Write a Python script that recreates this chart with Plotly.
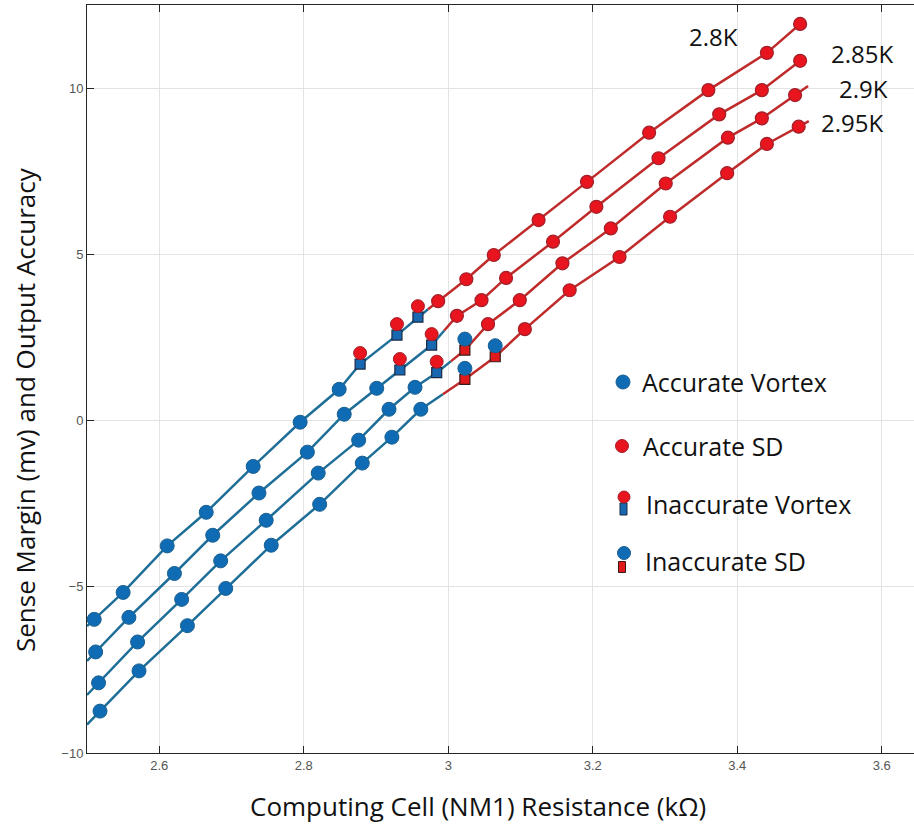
import plotly.graph_objects as go

# ---------------- data ----------------
curve_labels = ["2.8K", "2.85K", "2.9K", "2.95K"]

c1_x = [2.510, 2.550, 2.611, 2.665, 2.730, 2.795, 2.849, 2.878, 2.929, 2.958,
        2.986, 3.025, 3.063, 3.125, 3.192, 3.278, 3.360, 3.441, 3.487]
c1_y = [-5.98, -5.17, -3.77, -2.76, -1.38, -0.05, 0.94, 1.70, 2.57, 3.11,
        3.59, 4.25, 4.98, 6.03, 7.18, 8.66, 9.94, 11.06, 11.93]
c1_s = ["AV"] * 7 + ["IV"] * 3 + ["SD"] * 9

c2_x = [2.512, 2.558, 2.621, 2.674, 2.738, 2.805, 2.856, 2.901, 2.933, 2.977,
        3.012, 3.046, 3.080, 3.145, 3.205, 3.291, 3.375, 3.434, 3.487]
c2_y = [-6.96, -5.92, -4.60, -3.45, -2.18, -0.95, 0.19, 0.97, 1.52, 2.27,
        3.15, 3.62, 4.29, 5.38, 6.43, 7.89, 9.21, 9.94, 10.82]
c2_s = ["AV"] * 8 + ["IV"] * 2 + ["SD"] * 9

c3_x = [2.516, 2.570, 2.631, 2.685, 2.748, 2.820, 2.876, 2.918, 2.954, 2.984,
        3.023, 3.055, 3.099, 3.158, 3.225, 3.301, 3.387, 3.434, 3.480]
c3_y = [-7.89, -6.66, -5.38, -4.22, -3.00, -1.58, -0.59, 0.34, 1.00, 1.44,
        2.12, 2.90, 3.62, 4.73, 5.78, 7.13, 8.51, 9.09, 9.79]
c3_s = ["AV"] * 9 + ["IV"] + ["ISD"] + ["SD"] * 8

c4_x = [2.518, 2.572, 2.639, 2.692, 2.755, 2.822, 2.881, 2.922, 2.962,
        3.023, 3.065, 3.106, 3.168, 3.237, 3.307, 3.386, 3.441, 3.485]
c4_y = [-8.74, -7.53, -6.17, -5.05, -3.75, -2.52, -1.28, -0.50, 0.34,
        1.24, 1.92, 2.75, 3.92, 4.92, 6.13, 7.44, 8.32, 8.84]
c4_s = ["AV"] * 9 + ["ISD"] * 2 + ["SD"] * 7

right_ext = [0.0, 0.006, 0.018, 0.014]   # how far each line runs past its last point

legend_labels = ["Accurate Vortex", "Accurate SD", "Inaccurate Vortex", "Inaccurate SD"]

x_ticks = [2.6, 2.8, 3.0, 3.2, 3.4, 3.6]
x_tick_text = ["2.6", "2.8", "3", "3.2", "3.4", "3.6"]
y_ticks = [-10, -5, 0, 5, 10]
x_range = [2.5, 3.6446]
y_range = [-10, 12.5]

# ---------------- style ----------------
BLUE_LINE = "#1f6e98"
BLUE_MK = "#0f6cb4"
RED_LINE = "#bf2b2b"
RED_MK = "#e8141e"
RED_EDGE = "#a0202a"
SQ_EDGE = "#1b2a44"
FONT = "Open Sans"

W, H = 914, 826
ML, MT, MB, MR = 87, 5, 73, 0
PW, PH = W - ML - MR, H - MT - MB
y_per_px = (y_range[1] - y_range[0]) / PH
circle_off = 11 * y_per_px   # circle drawn above the square for inaccurate marks

fig = go.Figure()

curves = [(c1_x, c1_y, c1_s), (c2_x, c2_y, c2_s), (c3_x, c3_y, c3_s), (c4_x, c4_y, c4_s)]

for i, (xs, ys, ss) in enumerate(curves):
    s0 = (ys[1] - ys[0]) / (xs[1] - xs[0])
    xl = x_range[0]
    yl = ys[0] + s0 * (xl - xs[0])
    s1 = (ys[-1] - ys[-2]) / (xs[-1] - xs[-2])
    xr = xs[-1] + right_ext[i]
    yr = ys[-1] + s1 * (xr - xs[-1])
    # colour changes half-way between the last blue-line point and the next one
    kb = max(k for k, s in enumerate(ss) if s in ("AV", "IV"))
    xm = (xs[kb] + xs[kb + 1]) / 2
    ym = (ys[kb] + ys[kb + 1]) / 2
    bx = [xl] + list(xs[:kb + 1]) + [xm]
    by = [yl] + list(ys[:kb + 1]) + [ym]
    rx = [xm] + list(xs[kb + 1:]) + [xr]
    ry = [ym] + list(ys[kb + 1:]) + [yr]
    fig.add_trace(go.Scatter(x=bx, y=by, mode="lines",
                             line=dict(color=BLUE_LINE, width=2.5),
                             showlegend=False, hoverinfo="skip"))
    fig.add_trace(go.Scatter(x=rx, y=ry, mode="lines",
                             line=dict(color=RED_LINE, width=2.5),
                             showlegend=False, hoverinfo="skip"))

for i, (xs, ys, ss) in enumerate(curves):
    av = [k for k, s in enumerate(ss) if s == "AV"]
    sd = [k for k, s in enumerate(ss) if s == "SD"]
    iv = [k for k, s in enumerate(ss) if s == "IV"]
    isd = [k for k, s in enumerate(ss) if s == "ISD"]
    fig.add_trace(go.Scatter(x=[xs[k] for k in av], y=[ys[k] for k in av], mode="markers",
                             marker=dict(symbol="circle", size=14, color=BLUE_MK,
                                         line=dict(color="#1a5f8f", width=1)),
                             showlegend=False))
    fig.add_trace(go.Scatter(x=[xs[k] for k in sd], y=[ys[k] for k in sd], mode="markers",
                             marker=dict(symbol="circle", size=13, color=RED_MK,
                                         line=dict(color=RED_EDGE, width=1.2)),
                             showlegend=False))
    if iv:
        fig.add_trace(go.Scatter(x=[xs[k] for k in iv], y=[ys[k] for k in iv], mode="markers",
                                 marker=dict(symbol="square", size=10, color="#1768b0",
                                             line=dict(color=SQ_EDGE, width=1.2)),
                                 showlegend=False))
        fig.add_trace(go.Scatter(x=[xs[k] for k in iv], y=[ys[k] + circle_off for k in iv],
                                 mode="markers",
                                 marker=dict(symbol="circle", size=13, color=RED_MK,
                                             line=dict(color=RED_EDGE, width=1)),
                                 showlegend=False))
    if isd:
        fig.add_trace(go.Scatter(x=[xs[k] for k in isd], y=[ys[k] for k in isd], mode="markers",
                                 marker=dict(symbol="square", size=10, color="#e01a1a",
                                             line=dict(color="#3a1a1a", width=1.2)),
                                 showlegend=False))
        fig.add_trace(go.Scatter(x=[xs[k] for k in isd], y=[ys[k] + circle_off for k in isd],
                                 mode="markers",
                                 marker=dict(symbol="circle", size=14, color=BLUE_MK,
                                             line=dict(color="#1a5f8f", width=1)),
                                 showlegend=False))


def px2paper(px, py):
    return (px - ML) / PW, (H - MB - py) / PH


shapes = []
annotations = []


def circ(px, py, d, fill, edge):
    x0, y0 = px2paper(px - d / 2, py + d / 2)
    x1, y1 = px2paper(px + d / 2, py - d / 2)
    shapes.append(dict(type="circle", xref="paper", yref="paper", x0=x0, y0=y0, x1=x1, y1=y1,
                       fillcolor=fill, line=dict(color=edge, width=1)))


def rect(px, py, w, h, fill, edge):
    x0, y0 = px2paper(px - w / 2, py + h / 2)
    x1, y1 = px2paper(px + w / 2, py - h / 2)
    shapes.append(dict(type="rect", xref="paper", yref="paper", x0=x0, y0=y0, x1=x1, y1=y1,
                       fillcolor=fill, line=dict(color=edge, width=1)))


# legend icons
circ(623, 382, 14, BLUE_MK, "#1a5f8f")
circ(622, 446, 13, RED_MK, RED_EDGE)
rect(623.5, 509, 7, 12, "#1768b0", SQ_EDGE)
circ(624, 497, 12, RED_MK, RED_EDGE)
rect(622, 567, 7, 11, "#e01a1a", "#3a1a1a")
circ(624, 553, 13, BLUE_MK, "#1a5f8f")

leg_pos = [(640, 382), (641, 446), (644, 504), (643, 561)]
for (px, py), t in zip(leg_pos, legend_labels):
    xp, yp = px2paper(px, py)
    annotations.append(dict(xref="paper", yref="paper", x=xp, y=yp, xanchor="left",
                            yanchor="middle", text=t, showarrow=False,
                            font=dict(family=FONT, size=25, color="#111111")))

lab_pos = [(713, 37), (862, 53), (863, 88), (852, 123)]
for (px, py), t in zip(lab_pos, curve_labels):
    xp, yp = px2paper(px, py)
    annotations.append(dict(xref="paper", yref="paper", x=xp, y=yp, xanchor="center",
                            yanchor="middle", text=t, showarrow=False,
                            font=dict(family=FONT, size=24, color="#111111")))

# axis titles
xp, yp = px2paper(478, 806)
annotations.append(dict(xref="paper", yref="paper", x=xp, y=yp, xanchor="center", yanchor="middle",
                        text="Computing Cell (NM1) Resistance (kΩ)", showarrow=False,
                        font=dict(family=FONT, size=26, color="#111111")))
xp, yp = px2paper(25, 410)
annotations.append(dict(xref="paper", yref="paper", x=xp, y=yp, xanchor="center", yanchor="middle",
                        text="Sense Margin (mv) and Output Accuracy", showarrow=False, textangle=-90,
                        font=dict(family=FONT, size=26, color="#111111")))

axis_common = dict(showgrid=True, gridcolor="#e3e3e3", gridwidth=1, zeroline=False,
                   showline=True, linecolor="#262626", linewidth=1,
                   ticks="inside", ticklen=7, tickcolor="#262626",
                   tickfont=dict(family="Liberation Sans", size=13, color="#555555"))

fig.update_layout(
    width=W, height=H,
    margin=dict(l=ML, r=MR, t=MT, b=MB, pad=0),
    paper_bgcolor="white", plot_bgcolor="white",
    showlegend=False,
    shapes=shapes, annotations=annotations,
    xaxis=dict(range=x_range, tickvals=x_ticks, ticktext=x_tick_text, mirror="ticks", **axis_common),
    yaxis=dict(range=y_range, tickvals=y_ticks, mirror=False, **axis_common),
)

fig.write_html("out.html", config={"displayModeBar": False},
               post_script="document.body.style.margin='0';")
